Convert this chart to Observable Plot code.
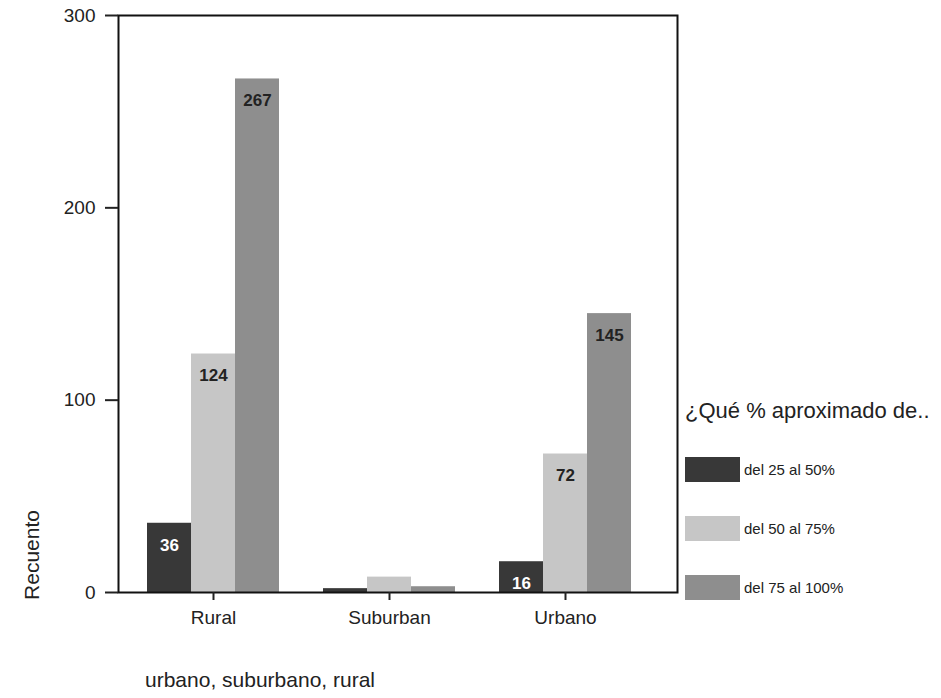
<!DOCTYPE html>
<html><head><meta charset="utf-8">
<script src="https://cdn.jsdelivr.net/npm/d3@7"></script>
<script src="https://cdn.jsdelivr.net/npm/@observablehq/plot@0.6"></script>
<style>
body{margin:0;background:#fff;font-family:"Liberation Sans",Arial,Helvetica,sans-serif;color:#222;}
#wrap{position:relative;width:941px;height:698px;overflow:hidden;}
#wrap svg{position:absolute;left:0;top:0;}
.ytitle{position:absolute;left:32px;top:555px;transform:translate(-50%,-50%) rotate(-90deg);font-size:21px;white-space:nowrap;line-height:24px;}
.xtitle{position:absolute;left:145px;top:668px;font-size:21px;line-height:24px;white-space:nowrap;}
.legend{position:absolute;left:685px;top:399px;}
.legend .lt{font-size:22px;line-height:24px;white-space:nowrap;}
.legend .item{position:absolute;left:0;display:flex;align-items:center;white-space:nowrap;font-size:15px;}
.legend .sw{width:55px;height:25px;margin-right:4px;}
</style></head><body><div id="wrap"></div>
<script>
const categories = ["Rural", "Suburban", "Urbano"];
const seriesNames = ["del 25 al 50%", "del 50 al 75%", "del 75 al 100%"];
const seriesColors = ["#383838", "#c6c6c6", "#8e8e8e"];
const ruralValues = [36, 124, 267];
const suburbanValues = [2, 8, 3];
const urbanoValues = [16, 72, 145];
const yTicks = [0, 100, 200, 300];
const yTitle = "Recuento";
const xTitle = "urbano, suburbano, rural";
const legendTitle = "¿Qué % aproximado de..";

const data = [];
[ruralValues, suburbanValues, urbanoValues].forEach((vals, i) =>
  vals.forEach((v, j) => data.push({cat: categories[i], series: seriesNames[j], key: categories[i] + "|" + seriesNames[j], value: v})));
const labeled = data.filter(d => d.value >= 10);
// band domain: three bars per category, one empty slot between groups
const xDomain = categories.flatMap((c, i) => [
  ...seriesNames.map(s => c + "|" + s),
  ...(i < categories.length - 1 ? ["gap" + i] : [])
]);
const xTickKeys = categories.map(c => c + "|" + seriesNames[1]);

const wrap = document.getElementById("wrap");
const plot = Plot.plot({
  width: 941, height: 698,
  marginLeft: 118, marginRight: 264, marginTop: 15, marginBottom: 106,
  style: {fontFamily: '"Liberation Sans", Arial, sans-serif', color: "#222", background: "transparent"},
  x: {domain: xDomain, range: [145, 632], padding: 0, axis: null},
  y: {domain: [0, 300], axis: null},
  color: {domain: seriesNames, range: seriesColors},
  marks: [
    Plot.barY(data, {x: "key", y: "value", fill: "series"}),
    Plot.text(labeled.filter(d => d.series === seriesNames[0]), {x: "key", y: "value", text: d => String(d.value), dy: 22, fontWeight: "bold", fontSize: 17, fill: "#fff"}),
    Plot.text(labeled.filter(d => d.series !== seriesNames[0]), {x: "key", y: "value", text: d => String(d.value), dy: 22, fontWeight: "bold", fontSize: 17, fill: "#222"}),
    Plot.frame({stroke: "#111", strokeWidth: 2}),
    Plot.axisY({ticks: yTicks, tickSize: 13, tickPadding: 10, fontSize: 19, strokeWidth: 2, label: null}),
    Plot.axisX({ticks: xTickKeys, tickFormat: k => k.split("|")[0], tickSize: 8, tickPadding: 10, fontSize: 19, strokeWidth: 2, label: null})
  ]
});
wrap.appendChild(plot);

const yt = document.createElement("div"); yt.className = "ytitle"; yt.textContent = yTitle; wrap.appendChild(yt);
const xt = document.createElement("div"); xt.className = "xtitle"; xt.textContent = xTitle; wrap.appendChild(xt);

const legend = document.createElement("div"); legend.className = "legend";
const lt = document.createElement("div"); lt.className = "lt"; lt.textContent = legendTitle; legend.appendChild(lt);
const itemTops = [58, 117, 176];
seriesNames.forEach((name, i) => {
  const it = document.createElement("div"); it.className = "item"; it.style.top = itemTops[i] + "px";
  const sw = document.createElement("div"); sw.className = "sw"; sw.style.background = seriesColors[i];
  const tx = document.createElement("span"); tx.textContent = name;
  it.appendChild(sw); it.appendChild(tx); legend.appendChild(it);
});
wrap.appendChild(legend);
</script></body></html>
